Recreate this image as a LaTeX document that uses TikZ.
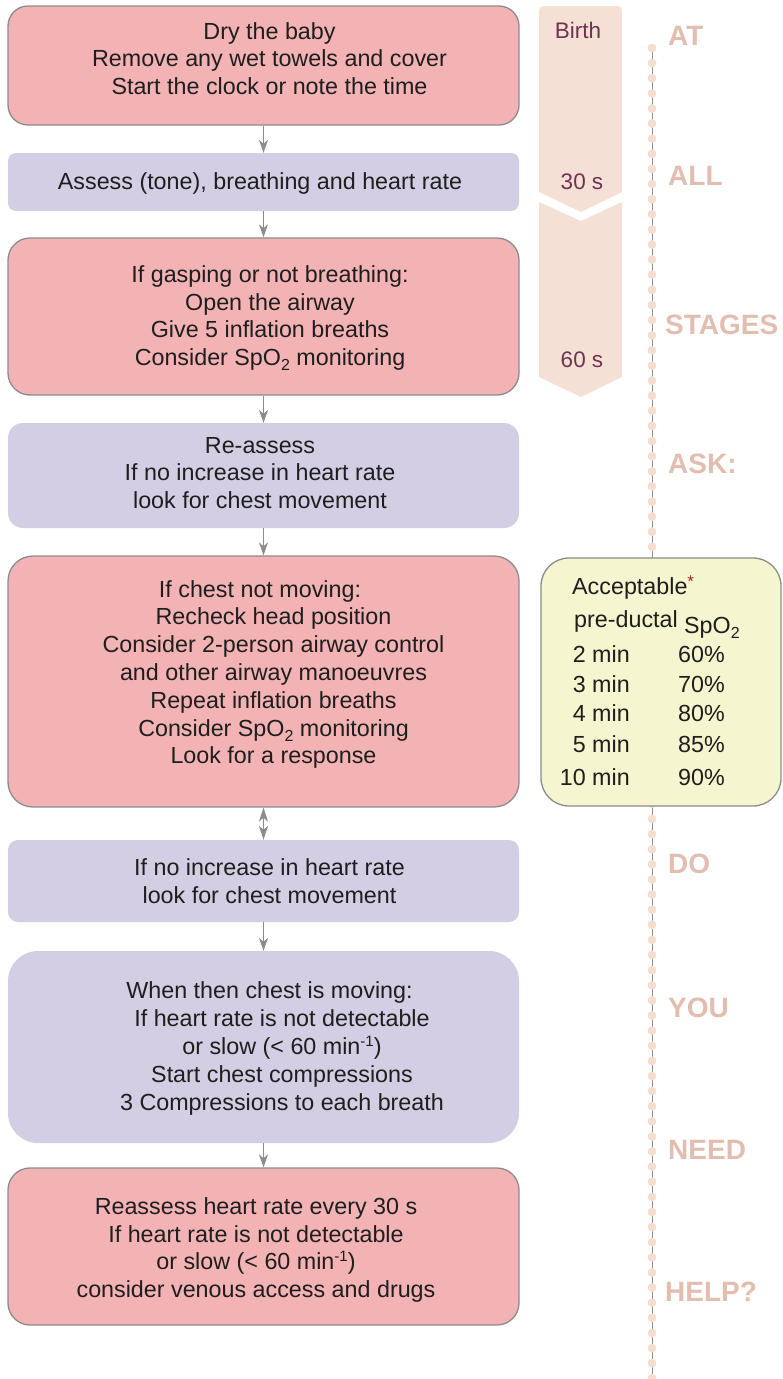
\documentclass[tikz,border=0pt]{standalone}
\usepackage{fontspec}
\setmainfont{Liberation Sans}
\usetikzlibrary{arrows.meta}

\definecolor{pinkfill}{HTML}{F3B3B4}
\definecolor{lavfill}{HTML}{D3CEE3}
\definecolor{edgegrey}{HTML}{8C8C8C}
\definecolor{inktext}{HTML}{1E1E1E}
\definecolor{spofill}{HTML}{F5F5CF}
\definecolor{timefill}{HTML}{F5E0D6}
\definecolor{timetext}{HTML}{6E3350}
\definecolor{dotfill}{HTML}{F5DDD0}
\definecolor{stagetext}{HTML}{E2BDB0}
\definecolor{starred}{HTML}{A0282D}

% small raised / lowered figures
\newcommand\lowtwo{\raisebox{-5pt}{\fontsize{16}{16}\selectfont 2}}
\newcommand\minusone{\raisebox{8pt}{\fontsize{15}{15}\selectfont -1}}

\tikzset{
  boxbase/.style={minimum width=511, inner sep=0pt},
  pinkbox/.style={boxbase, fill=pinkfill, draw=edgegrey, line width=1.3},
  lavbox/.style={boxbase, fill=lavfill},
  tx/.style={inner sep=0pt, text=inktext, font=\fontsize{23.3}{27.8}\selectfont},
  conn/.style={draw=edgegrey, line width=1.2, -{Stealth[length=13, width=9, inset=4]}},
  connboth/.style={draw=edgegrey, line width=1.2, {Stealth[length=14, width=9, inset=4]}-{Stealth[length=14, width=9, inset=4]}},
  timelab/.style={inner sep=0pt, text=timetext, font=\fontsize{22.5}{26}\selectfont},
  stageword/.style={inner sep=0pt, anchor=west, text=stagetext, font=\fontsize{28}{30}\selectfont\bfseries},
}

\begin{document}
\begin{tikzpicture}[x=1pt, y=-1pt]
\useasboundingbox (0,0) rectangle (782,1379);

% ---- time bar ----
\fill[timefill] (539,192) -- (539,16) .. controls (539,6) .. (549,6) -- (612,6)
  .. controls (622,6) .. (622,16) -- (622,192) -- (581,212) -- cycle;
\fill[timefill] (539,202) -- (581,221) -- (622,202) -- (622,377) -- (581,397) -- (539,377) -- cycle;
\node[timelab] (tbirth) at (578,30) {Birth};
\node[timelab] (t30) at (582,182) {30 s};
\node[timelab] (t60) at (582,360) {60 s};

% ---- dotted guide line ----
\draw[edgegrey, line width=0.9] (652,48) -- (652,1379);
\foreach \i in {0,...,88}
  \fill[dotfill] (652,48+\i*15.117) circle[radius=4.4];

\node[stageword] (wat) at (668,36) {AT};
\node[stageword] (wall) at (668,176) {ALL};
\node[stageword] (wstages) at (665,325) {STAGES};
\node[stageword] (wask) at (668,464) {ASK:};
\node[stageword] (wdo) at (668,864) {DO};
\node[stageword] (wyou) at (668,1008) {YOU};
\node[stageword] (wneed) at (668,1150) {NEED};
\node[stageword] (whelp) at (665,1292) {HELP?};

% ---- flow boxes ----
\node[pinkbox, minimum height=119, rounded corners=20] (b1) at (263.5,65.5) {};
\node[lavbox, minimum height=58, rounded corners=8] (b2) at (263.5,182) {};
\node[pinkbox, minimum height=157, rounded corners=22] (b3) at (263.5,316.5) {};
\node[lavbox, minimum height=105, rounded corners=15] (b4) at (263.5,475.5) {};
\node[pinkbox, minimum height=251, rounded corners=25] (b5) at (263.5,681.5) {};
\node[lavbox, minimum height=82, rounded corners=10] (b6) at (263.5,881) {};
\node[lavbox, minimum height=192, rounded corners=30] (b7) at (263.5,1047) {};
\node[pinkbox, minimum height=157, rounded corners=22] (b8) at (263.5,1246.5) {};

\node[tx, align=center] (t1) at (269.5,58.5) {Dry the baby\\Remove any wet towels and cover\\Start the clock or note the time};
\node[tx, align=center] (t2) at (260,183) {Assess (tone), breathing and heart rate};
\node[tx, align=center] (t3) at (270,318) {If gasping or not breathing:\\Open the airway\\Give 5 inflation breaths\\Consider SpO\lowtwo{} monitoring};
\node[tx, align=center] (t4) at (260,473) {Re-assess\\If no increase in heart rate\\look for chest movement};
\node[tx, align=center] (t5) at (273.5,674.5) {If chest not moving:\hspace*{27pt}\\Recheck head position\\Consider 2-person airway control\\and other airway manoeuvres\\Repeat inflation breaths\\Consider SpO\lowtwo{} monitoring\\Look for a response};
\node[tx, align=center] (t6) at (269.5,881) {If no increase in heart rate\\look for chest movement};
\node[tx, align=center] (t7) at (282,1048.5) {When then chest is moving:\hspace*{25pt}\\If heart rate is not detectable\\or slow (< 60 min\minusone)\\Start chest compressions\\3 Compressions to each breath};
\node[tx, align=center] (t8) at (256,1250) {Reassess heart rate every 30 s\\If heart rate is not detectable\\or slow (< 60 min\minusone)\\consider venous access and drugs};

% ---- connectors ----
\draw[conn] (b1.south) -- (b2.north);
\draw[conn] (b2.south) -- (b3.north);
\draw[conn] (b3.south) -- (b4.north);
\draw[conn] (b4.south) -- (b5.north);
\draw[connboth] (b5.south) -- (b6.north);
\draw[conn] (b6.south) -- (b7.north);
\draw[conn] (b7.south) -- (b8.north);

% ---- SpO2 table ----
\node[fill=spofill, draw=edgegrey, line width=1.3, minimum width=240, minimum height=248,
  rounded corners=28, inner sep=0pt] (spo) at (661,682) {};
\node[tx, anchor=base west] (sacc) at (572,594) {Acceptable\textcolor{starred}{\raisebox{7pt}{\fontsize{17}{17}\selectfont *}}};
\node[tx, anchor=base west] (spre) at (574,627) {pre-ductal};
\node[tx, anchor=base west] (sspo) at (684,633) {SpO\lowtwo};
\foreach \m/\p/\y in {2/60/662, 3/70/692, 4/80/721, 5/85/752, 10/90/785} {
  \node[tx, anchor=base east] (smin\m) at (630,\y) {\m{} min};
  \node[tx, anchor=base west] (spct\m) at (678,\y) {\p\%};
}
\end{tikzpicture}
\end{document}
